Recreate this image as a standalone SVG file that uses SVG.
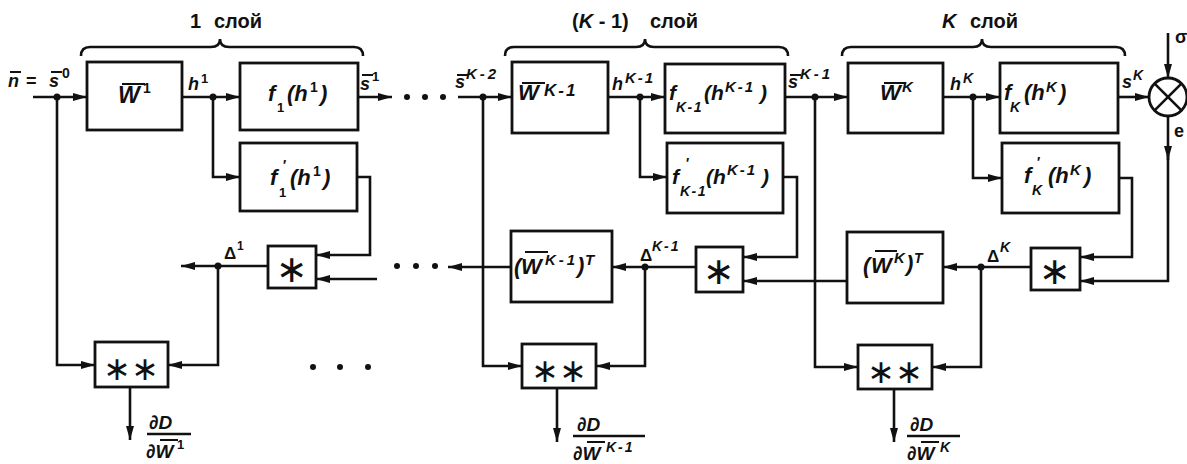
<svg xmlns="http://www.w3.org/2000/svg" width="1187" height="464" viewBox="0 0 1187 464">
<defs>
<style>
.b{fill:#fff;stroke:#111;stroke-width:2.8}
.w{fill:none;stroke:#111;stroke-width:2.6}
.ob{stroke:#111;stroke-width:2}
.fl{stroke:#111;stroke-width:2.6}
.a{marker-end:url(#ah)}
.m{font-family:"Liberation Sans",Arial,sans-serif;font-weight:bold;font-style:italic;fill:#111}
.u{font-family:"Liberation Sans",Arial,sans-serif;font-weight:bold;fill:#111}
.n{font-style:normal}
.st{font-family:"DejaVu Sans",sans-serif;font-weight:normal;fill:#111;text-anchor:middle}
.d{fill:#111}
</style>
<marker id="ah" viewBox="0 0 14 8" refX="14" refY="4" markerWidth="14" markerHeight="8" markerUnits="userSpaceOnUse" orient="auto"><path d="M0,0 L14,4 L0,8 Z" fill="#111"/></marker>
</defs>
<rect width="1187" height="464" fill="#fff"/>

<g id="layer-labels">
<text class="u" font-size="20" x="190" y="28">1 <tspan x="214">слой</tspan></text>
<path class="w" d="M81,56 Q81,47 90,47 L211,47 Q220,47 220,39 Q220,47 229,47 L354,47 Q363,47 363,56"/>
<text class="u" font-size="20" x="572" y="28">(<tspan class="m">K</tspan> - 1) <tspan x="650">слой</tspan></text>
<path class="w" d="M505,56 Q505,47 514,47 L636,47 Q645,47 645,39 Q645,47 654,47 L779,47 Q788,47 788,56"/>
<text class="u" font-size="20" x="942" y="28"><tspan class="m">K</tspan> <tspan x="970">слой</tspan></text>
<path class="w" d="M842,56 Q842,47 851,47 L973,47 Q982,47 982,39 Q982,47 991,47 L1116,47 Q1125,47 1125,56"/>
</g>

<g id="connectors">
<path class="w a" d="M33,97 H87"/>
<path class="w a" d="M182,97 H240"/>
<path class="w a" d="M358,97 H392"/>
<path class="w a" d="M213,97 V177 H240"/>
<path class="w a" d="M357,177 H370 V255 H316"/>
<path class="w a" d="M377,279 H316"/>
<path class="w a" d="M268,266 H181"/>
<path class="w a" d="M57,97 V365 H95"/>
<path class="w a" d="M218,266 V365 H168"/>
<path class="w a" d="M130,387 V440"/>

<path class="w a" d="M458,97 H512"/>
<path class="w a" d="M608,97 H665"/>
<path class="w a" d="M785,97 H848"/>
<path class="w a" d="M640,97 V177 H667"/>
<path class="w a" d="M783,177 H797 V257 H743"/>
<path class="w a" d="M847,281 H743"/>
<path class="w a" d="M696,267 H612"/>
<path class="w a" d="M511,267 H448"/>
<path class="w a" d="M483,97 V366 H522"/>
<path class="w a" d="M645,267 V366 H596"/>
<path class="w a" d="M557,388 V442"/>

<path class="w a" d="M943,97 H1000"/>
<path class="w a" d="M1118,97 H1149"/>
<path class="w a" d="M973,97 V178 H1002"/>
<path class="w a" d="M1119,178 H1132 V257 H1080"/>
<path class="w a" d="M1168,33 V78"/>
<path class="w a" d="M1168,116 V160"/>
<path class="w a" d="M1168,155 V281 H1080"/>
<path class="w a" d="M1031,267 H943"/>
<path class="w a" d="M815,97 V367 H858"/>
<path class="w a" d="M981,267 V367 H932"/>
<path class="w a" d="M894,389 V442"/>

<circle class="d" cx="57" cy="97" r="3.5"/>
<circle class="d" cx="213" cy="97" r="3.5"/>
<circle class="d" cx="218" cy="266" r="3.5"/>
<circle class="d" cx="483" cy="97" r="3.5"/>
<circle class="d" cx="640" cy="97" r="3.5"/>
<circle class="d" cx="815" cy="97" r="3.5"/>
<circle class="d" cx="645" cy="267" r="3.5"/>
<circle class="d" cx="973" cy="97" r="3.5"/>
<circle class="d" cx="981" cy="267" r="3.5"/>

<circle class="d" cx="407" cy="97" r="3"/>
<circle class="d" cx="425" cy="97" r="3"/>
<circle class="d" cx="443" cy="97" r="3"/>
<circle class="d" cx="397" cy="266" r="3"/>
<circle class="d" cx="416" cy="266" r="3"/>
<circle class="d" cx="435" cy="266" r="3"/>
<circle class="d" cx="313" cy="367" r="3"/>
<circle class="d" cx="340" cy="367" r="3"/>
<circle class="d" cx="368" cy="367" r="3"/>
</g>

<g id="signal-labels">
<text class="m" font-size="18"><tspan x="8" y="87">n</tspan><tspan class="n" x="26" y="87">=</tspan><tspan x="49" y="87">s</tspan><tspan class="n" x="62" y="78" font-size="14">0</tspan></text>
<line class="ob" x1="10" y1="72" x2="21" y2="72"/>
<line class="ob" x1="51" y1="72" x2="62" y2="72"/>
<text class="m" font-size="18"><tspan x="188" y="90">h</tspan><tspan class="n" x="201" y="83" font-size="13">1</tspan></text>
<text class="m" font-size="18"><tspan x="360" y="90">s</tspan><tspan class="n" x="372" y="81" font-size="13">1</tspan></text>
<line class="ob" x1="362" y1="75" x2="373" y2="75"/>
<text class="u" font-size="17"><tspan x="224" y="259">Δ</tspan><tspan x="237" y="250" font-size="12">1</tspan></text>

<text class="m" font-size="18"><tspan x="455" y="88">s</tspan><tspan x="466" y="79" font-size="15" letter-spacing="3">K-2</tspan></text>
<line class="ob" x1="457" y1="75" x2="468" y2="75"/>
<text class="m" font-size="18"><tspan x="612" y="90">h</tspan><tspan x="625" y="83" font-size="15" letter-spacing="2">K-1</tspan></text>
<text class="m" font-size="18"><tspan x="788" y="88">s</tspan><tspan x="800" y="79" font-size="15" letter-spacing="3">K-1</tspan></text>
<line class="ob" x1="790" y1="75" x2="801" y2="75"/>
<text class="u" font-size="17"><tspan x="640" y="261">Δ</tspan><tspan class="m" x="652" y="251" font-size="14" letter-spacing="2">K-1</tspan></text>

<text class="m" font-size="18"><tspan x="950" y="90">h</tspan><tspan x="963" y="83" font-size="14">K</tspan></text>
<text class="m" font-size="18"><tspan x="1122" y="88">s</tspan><tspan x="1133" y="80" font-size="14">K</tspan></text>
<text class="u" font-size="17"><tspan x="987" y="262">Δ</tspan><tspan class="m" x="1000" y="252" font-size="14">K</tspan></text>
<text class="u" font-size="18" x="1175" y="43">σ</text>
<text class="u" font-size="18" x="1174" y="137">e</text>
</g>

<g id="W1">
<rect class="b" x="87" y="62" width="95" height="68"/>
<text class="m" font-size="23"><tspan x="118" y="103">W</tspan><tspan class="n" x="143" y="93" font-size="14">1</tspan></text>
<line class="ob" x1="122" y1="84" x2="145" y2="84"/>
</g>
<g id="f1">
<rect class="b" x="240" y="63" width="118" height="67"/>
<text class="m" font-size="22"><tspan x="268" y="101">f</tspan><tspan class="n" x="277" y="112" font-size="13">1</tspan><tspan x="287" y="101">(h</tspan><tspan class="n" x="310" y="92" font-size="14">1</tspan><tspan x="320" y="101">)</tspan></text>
</g>
<g id="df1">
<rect class="b" x="240" y="143" width="117" height="68"/>
<text class="m" font-size="22"><tspan x="270" y="185">f</tspan><tspan x="282" y="170" font-size="15">'</tspan><tspan class="n" x="279" y="197" font-size="13">1</tspan><tspan x="290" y="185">(h</tspan><tspan class="n" x="313" y="176" font-size="14">1</tspan><tspan x="323" y="185">)</tspan></text>
</g>
<g id="mul1">
<rect class="b" x="268" y="246" width="48" height="42"/>
<text class="st" font-size="38" x="292" y="282">∗</text>
</g>
<g id="grad1">
<rect class="b" x="95" y="342" width="73" height="45"/>
<text class="st" font-size="33" x="117" y="380">∗</text>
<text class="st" font-size="33" x="145" y="380">∗</text>
</g>
<g id="dD1">
<text class="m" font-size="19" x="149" y="429">∂D</text>
<line class="fl" x1="147" y1="434" x2="191" y2="434"/>
<text class="m" font-size="19"><tspan x="146" y="458">∂W</tspan><tspan class="n" x="177" y="449" font-size="13">1</tspan></text>
<line class="ob" x1="160" y1="440" x2="178" y2="440"/>
</g>

<g id="WK1">
<rect class="b" x="512" y="62" width="96" height="71"/>
<text class="m" font-size="22"><tspan x="518" y="100">W</tspan><tspan x="544" y="96" font-size="17" letter-spacing="2">K-1</tspan></text>
<line class="ob" x1="522" y1="83" x2="545" y2="83"/>
</g>
<g id="fK1">
<rect class="b" x="665" y="64" width="120" height="69"/>
<text class="m" font-size="21"><tspan x="669" y="100">f</tspan><tspan x="676" y="112" font-size="14" letter-spacing="1.5">K-1</tspan><tspan x="704" y="100">(h</tspan><tspan x="725" y="92" font-size="15" letter-spacing="2">K-1</tspan><tspan x="760" y="100">)</tspan></text>
</g>
<g id="dfK1">
<rect class="b" x="667" y="143" width="116" height="70"/>
<text class="m" font-size="21"><tspan x="672" y="184">f</tspan><tspan x="685" y="168" font-size="15">'</tspan><tspan x="680" y="196" font-size="14" letter-spacing="1.5">K-1</tspan><tspan x="706" y="184">(h</tspan><tspan x="727" y="175" font-size="15" letter-spacing="2">K-1</tspan><tspan x="762" y="184">)</tspan></text>
</g>
<g id="mulK1">
<rect class="b" x="696" y="247" width="47" height="45"/>
<text class="st" font-size="38" x="719" y="284">∗</text>
</g>
<g id="WTK1">
<rect class="b" x="511" y="231" width="101" height="71"/>
<text class="m" font-size="22"><tspan x="514" y="274">(</tspan><tspan x="521" y="274">W</tspan><tspan x="545" y="265" font-size="15" letter-spacing="3">K-1</tspan><tspan x="577" y="273">)</tspan><tspan x="585" y="265" font-size="15">T</tspan></text>
<line class="ob" x1="525" y1="252" x2="548" y2="252"/>
</g>
<g id="gradK1">
<rect class="b" x="522" y="344" width="74" height="44"/>
<text class="st" font-size="33" x="545" y="382">∗</text>
<text class="st" font-size="33" x="573" y="382">∗</text>
</g>
<g id="dDK1">
<text class="m" font-size="19" x="577" y="431">∂D</text>
<line class="fl" x1="573" y1="436" x2="645" y2="436"/>
<text class="m" font-size="19"><tspan x="573" y="460">∂W</tspan><tspan x="606" y="452" font-size="14" letter-spacing="2">K-1</tspan></text>
<line class="ob" x1="587" y1="442" x2="605" y2="442"/>
</g>

<g id="WK">
<rect class="b" x="848" y="63" width="95" height="70"/>
<text class="m" font-size="22"><tspan x="880" y="100">W</tspan><tspan x="902" y="92" font-size="15">K</tspan></text>
<line class="ob" x1="884" y1="83" x2="906" y2="83"/>
</g>
<g id="fK">
<rect class="b" x="1000" y="63" width="118" height="70"/>
<text class="m" font-size="22"><tspan x="1004" y="100">f</tspan><tspan x="1010" y="112" font-size="14">K</tspan><tspan x="1024" y="100">(h</tspan><tspan x="1046" y="92" font-size="15">K</tspan><tspan x="1059" y="100">)</tspan></text>
</g>
<g id="dfK">
<rect class="b" x="1002" y="143" width="117" height="70"/>
<text class="m" font-size="22"><tspan x="1024" y="183">f</tspan><tspan x="1036" y="167" font-size="15">'</tspan><tspan x="1032" y="195" font-size="14">K</tspan><tspan x="1048" y="183">(h</tspan><tspan x="1070" y="175" font-size="15">K</tspan><tspan x="1084" y="183">)</tspan></text>
</g>
<g id="mulK">
<rect class="b" x="1031" y="248" width="49" height="42"/>
<text class="st" font-size="38" x="1055" y="284">∗</text>
</g>
<g id="WTK">
<rect class="b" x="847" y="232" width="96" height="71"/>
<text class="m" font-size="22"><tspan x="863" y="273">(</tspan><tspan x="871" y="273">W</tspan><tspan x="894" y="263" font-size="15">K</tspan><tspan x="906" y="271">)</tspan><tspan x="914" y="263" font-size="14">T</tspan></text>
<line class="ob" x1="875" y1="251" x2="897" y2="251"/>
</g>
<g id="gradK">
<rect class="b" x="858" y="345" width="74" height="44"/>
<text class="st" font-size="33" x="881" y="383">∗</text>
<text class="st" font-size="33" x="909" y="383">∗</text>
</g>
<g id="dDK">
<text class="m" font-size="19" x="910" y="431">∂D</text>
<line class="fl" x1="907" y1="436" x2="960" y2="436"/>
<text class="m" font-size="19"><tspan x="907" y="460">∂W</tspan><tspan x="940" y="452" font-size="14">K</tspan></text>
<line class="ob" x1="921" y1="442" x2="939" y2="442"/>
</g>

<g id="comparator">
<circle class="b" cx="1168" cy="97" r="19"/>
<line class="fl" x1="1154.6" y1="83.6" x2="1181.4" y2="110.4"/>
<line class="fl" x1="1154.6" y1="110.4" x2="1181.4" y2="83.6"/>
</g>
</svg>
